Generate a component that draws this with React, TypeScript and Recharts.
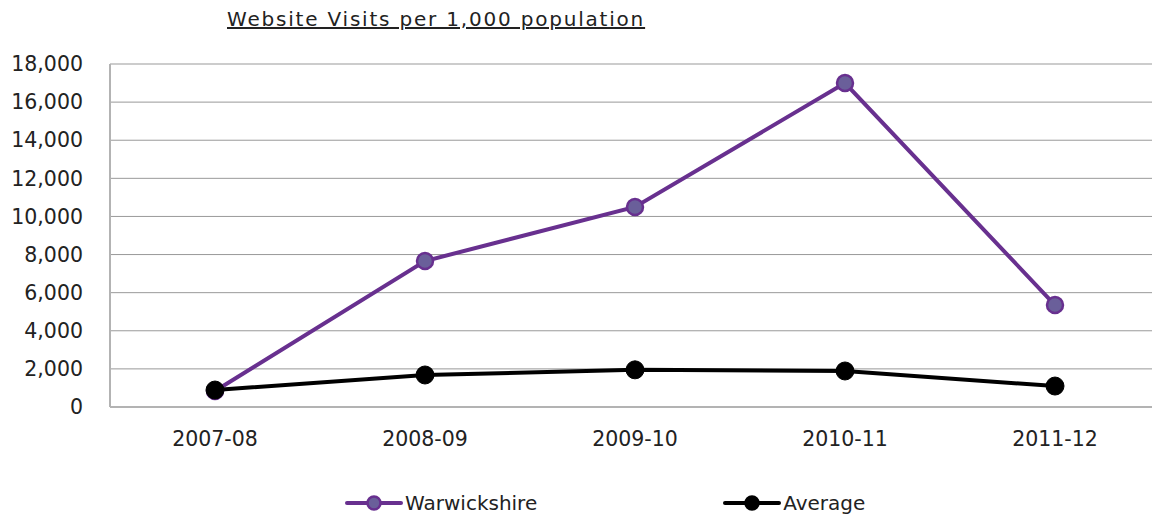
import { LineChart, Line, XAxis, YAxis, CartesianGrid, Legend } from "recharts";

const years = ["2007-08", "2008-09", "2009-10", "2010-11", "2011-12"];
const warwickshire = [840, 7660, 10500, 17000, 5350];
const average = [890, 1680, 1950, 1890, 1100];
const yTicks = [0, 2000, 4000, 6000, 8000, 10000, 12000, 14000, 16000, 18000];

const data = years.map((year, i) => ({
  year,
  warwickshire: warwickshire[i],
  average: average[i],
}));

const FONT = "'DejaVu Sans', Verdana, sans-serif";
const PURPLE = "#68308f";

const fmt = (v: number) => v.toLocaleString("en-US");

function LegendContent() {
  const item = (color: string, fill: string, label: string) => (
    <div style={{ display: "flex", alignItems: "center" }}>
      <svg width={58} height={16}>
        <line x1={2} y1={8} x2={56} y2={8} stroke={color} strokeWidth={4} strokeLinecap="round" />
        <circle cx={29} cy={8} r={6.5} fill={fill} stroke={color} strokeWidth={2.5} />
      </svg>
      <span style={{ marginLeft: 2 }}>{label}</span>
    </div>
  );
  return (
    <div style={{ display: "flex", marginLeft: 325, marginTop: 22, fontFamily: FONT, fontSize: 20, color: "#222" }}>
      {item(PURPLE, "#6a5f9a", "Warwickshire")}
      <div style={{ width: 186 }} />
      {item("#000", "#000", "Average")}
    </div>
  );
}

export default function App() {
  return (
    <div style={{ position: "absolute", left: 0, top: 0, width: 1152, height: 518, overflow: "hidden", background: "#fff" }}>
      <div
        style={{
          position: "absolute",
          left: 227,
          top: 7,
          fontFamily: FONT,
          fontSize: 20,
          letterSpacing: 1.8,
          color: "#222",
          textDecoration: "underline",
          whiteSpace: "nowrap",
        }}
      >
        Website Visits per 1,000 population
      </div>
      <LineChart width={1170} height={518} data={data} margin={{ top: 64, right: 10, bottom: 0, left: 20 }}>
        <CartesianGrid vertical={false} stroke="#999" strokeWidth={1} />
        <XAxis
          dataKey="year"
          padding={{ left: 105, right: 105 }}
          axisLine={{ stroke: "#b3b3b3", strokeWidth: 2 }}
          tickLine={false}
          tickSize={0}
          tickMargin={24}
          height={62}
          tick={{ fontFamily: FONT, fontSize: 20.5, fill: "#222" }}
        />
        <YAxis
          domain={[0, 18000]}
          ticks={yTicks}
          interval={0}
          tickFormatter={fmt}
          axisLine={{ stroke: "#b3b3b3", strokeWidth: 2 }}
          tickLine={false}
          tickSize={0}
          tickMargin={27}
          width={90}
          tick={{ fontFamily: FONT, fontSize: 20.5, fill: "#222" }}
        />
        <Legend verticalAlign="bottom" height={49} content={<LegendContent />} />
        <Line
          type="linear"
          dataKey="warwickshire"
          stroke={PURPLE}
          strokeWidth={4}
          dot={{ r: 8, fill: "#6a5f9a", stroke: PURPLE, strokeWidth: 2.5 }}
          isAnimationActive={false}
        />
        <Line
          type="linear"
          dataKey="average"
          stroke="#000"
          strokeWidth={4}
          dot={{ r: 9, fill: "#000", stroke: "#000", strokeWidth: 1 }}
          isAnimationActive={false}
        />
      </LineChart>
    </div>
  );
}
